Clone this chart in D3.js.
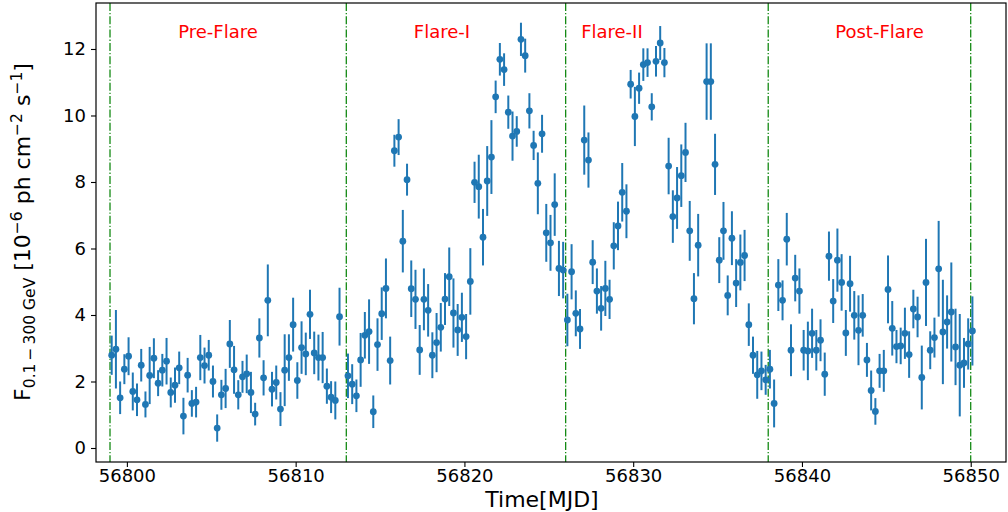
<!DOCTYPE html>
<html><head><meta charset="utf-8">
<script src="https://cdn.jsdelivr.net/npm/d3@7"></script>
<style>body{margin:0;background:#fff}svg{display:block}text{font-family:"DejaVu Sans",sans-serif}</style>
</head><body><svg id="c" width="1008" height="512"></svg>
<script>
const time = [
56799.10,56799.35,56799.60,56799.85,56800.10,56800.35,56800.60,56800.85,
56801.10,56801.35,56801.60,56801.85,56802.10,56802.35,56802.60,56802.85,
56803.10,56803.35,56803.60,56803.85,56804.10,56804.35,56804.60,56804.85,
56805.10,56805.35,56805.60,56805.85,56806.10,56806.35,56806.60,56806.85,
56807.10,56807.35,56807.60,56807.85,56808.10,56808.35,56808.60,56808.85,
56809.10,56809.35,56809.60,56809.85,56810.10,56810.35,56810.60,56810.85,
56811.10,56811.35,56811.60,56811.85,56812.10,56812.35,56812.60,
56813.10,56813.35,56813.60,56813.85,56814.10,56814.35,56814.60,56814.85,
56815.10,56815.35,56815.60,56815.85,56816.10,56816.35,56816.60,56816.85,
56817.10,56817.35,56817.60,56817.85,56818.10,56818.35,56818.60,56818.85,
56819.10,56819.35,56819.60,56819.85,56820.10,56820.35,56820.60,56820.85,
56821.10,56821.35,56821.60,56821.85,56822.10,56822.35,56822.60,56822.85,
56823.10,56823.35,56823.60,56823.85,56824.10,56824.35,56824.60,56824.85,
56825.10,56825.35,56825.60,56825.85,56826.10,56826.35,56826.60,56826.85,
56827.10,56827.35,56827.60,56827.85,56828.10,56828.35,56828.60,56828.85,
56829.10,56829.35,56829.60,56829.85,56830.10,56830.35,56830.60,56830.85,
56831.10,56831.35,56831.60,56831.85,56832.10,56832.35,56832.60,56832.85,
56833.10,56833.35,56833.60,56833.85,56834.35,56834.60,56834.85,
56835.10,56835.35,56835.60,56835.85,56836.10,56836.35,56836.60,56836.85,
56837.10,56837.35,56837.60,56837.85,56838.10,56838.35,56838.60,56838.85,
56839.10,56839.35,56839.60,56839.85,56840.10,56840.35,56840.60,56840.85,
56841.10,56841.35,56841.60,56841.85,56842.10,56842.35,56842.60,56842.85,
56843.10,56843.35,56843.60,56843.85,56844.10,56844.35,56844.60,56844.85,
56845.10,56845.35,56845.60,56845.85,56846.10,56846.35,56846.60,56846.85,
56847.10,56847.35,56847.60,56847.85,56848.10,56848.35,56848.60,56848.85,
56849.10,56849.35,56849.60,56849.85,56850.10
];
const flux = [
2.79,2.97,1.51,2.37,2.76,1.70,1.45,2.49,1.31,2.18,2.70,1.95,2.34,2.61,1.67,1.89,
2.41,0.96,2.19,1.34,1.38,2.72,2.48,2.79,2.00,0.60,1.60,1.79,3.13,2.35,1.60,2.14,
2.23,1.67,1.02,3.31,2.11,4.44,1.77,1.97,1.17,2.34,2.72,3.71,2.03,3.02,2.83,4.02,
2.86,2.72,2.72,1.86,1.53,1.43,3.95,
2.17,1.92,1.57,2.65,3.39,3.50,1.09,3.11,4.04,4.80,2.63,8.94,9.35,6.22,8.07,4.79,
4.47,2.95,4.47,4.14,2.79,3.17,3.63,4.48,5.15,4.06,3.55,3.93,3.35,5.01,7.99,7.86,
6.34,8.03,8.75,10.56,11.69,11.38,10.10,9.38,9.52,12.29,11.80,10.14,9.10,7.96,9.45,
6.47,6.17,7.32,5.40,5.35,3.85,5.30,4.05,3.58,9.26,8.66,5.59,4.72,4.20,4.80,4.47,
6.08,6.68,7.69,7.12,10.94,9.97,10.82,11.53,11.59,10.26,11.63,12.18,11.59,8.48,6.96,
7.52,8.19,8.89,6.53,4.49,6.10,
11.02,11.02,8.53,5.65,6.53,4.59,6.31,4.96,5.58,5.79,3.71,2.79,2.20,2.32,2.05,2.37,
1.34,4.90,4.44,6.28,2.94,5.11,4.72,2.94,2.92,3.45,2.94,3.24,2.22,5.77,4.42,5.65,
4.98,3.46,4.94,3.99,3.54,3.99,2.65,1.73,1.10,2.32,2.32,4.77,3.60,3.05,3.07,3.45,
2.81,4.18,3.94,2.12,4.98,2.94,3.32,5.39,3.49,3.79,4.09,3.04,2.49,2.56,3.13,3.52
];
const fluxErr = [
0.59,1.18,0.49,0.45,0.57,0.57,0.49,0.49,0.39,0.86,0.60,0.39,0.49,0.70,0.45,0.53,
0.49,0.55,0.52,0.40,0.46,0.68,0.54,0.46,0.48,0.41,0.45,0.59,0.72,0.72,0.44,0.48,
0.58,0.62,0.34,0.59,0.53,1.08,0.52,0.51,0.51,1.08,0.70,0.81,0.55,0.79,0.64,0.74,
0.64,0.69,0.77,0.53,0.48,0.57,0.87,
0.67,0.60,0.49,0.81,0.70,0.97,0.49,0.79,0.79,0.90,0.72,0.48,0.54,0.94,0.48,0.85,
0.89,0.75,0.93,0.79,0.69,0.89,0.73,0.78,0.88,1.04,0.78,0.74,0.68,1.00,0.62,0.96,
0.85,1.05,1.11,0.49,0.49,0.49,0.50,0.74,0.46,0.50,0.51,0.53,0.44,0.93,0.57,
0.87,0.84,0.94,0.83,0.85,0.79,0.83,0.69,0.60,1.04,0.83,0.66,0.68,0.67,0.83,0.59,
0.71,0.73,0.88,0.81,0.43,0.89,0.47,0.49,0.43,0.41,0.46,0.51,0.44,0.85,0.79,
0.93,0.94,0.89,0.90,0.77,0.94,
1.15,1.15,0.92,0.69,0.87,0.60,0.81,0.72,0.84,0.77,0.64,0.56,0.72,0.58,0.45,0.58,
0.72,0.78,0.60,0.79,0.78,0.70,0.68,0.61,0.88,0.74,0.61,0.63,0.65,0.74,0.66,0.95,
0.85,0.69,0.84,0.73,1.05,0.64,0.51,0.60,0.40,0.51,0.63,1.02,0.82,0.50,0.55,0.77,
0.70,0.58,0.61,0.96,1.31,0.57,0.60,1.44,1.57,0.80,1.49,1.15,1.54,0.75,0.77,1.04
];
const xTicks = [56800,56810,56820,56830,56840,56850];
const yTicks = [0,2,4,6,8,10,12];
const periodEdges = [56799,56813,56826,56838,56850];
const periodNames = ["Pre-Flare","Flare-I","Flare-II","Post-Flare"];
const periodLabelTimes = [56805.4,56818.67,56828.74,56844.6];

const L=96,R=1006,T=3,B=462;
const svg=d3.select("#c");
const x=d3.scaleLinear().domain([56798.17,56852.09]).range([L,R]);
const y=d3.scaleLinear().domain([-0.421,13.383]).range([B,T]);
const data=time.map((t,i)=>({t,f:flux[i],e:fluxErr[i]}));

// period boundaries
svg.append("g").selectAll("line").data(periodEdges).join("line")
  .attr("x1",d=>x(d)).attr("x2",d=>x(d)).attr("y1",T).attr("y2",B)
  .attr("stroke","#008000").attr("stroke-width",1.2).attr("stroke-dasharray","8,2,1.3,2");

// error bars
const blue="#1f77b4";
svg.append("g").selectAll("line").data(data).join("line")
  .attr("x1",d=>x(d.t)).attr("x2",d=>x(d.t))
  .attr("y1",d=>y(d.f+d.e)).attr("y2",d=>y(d.f-d.e))
  .attr("stroke",blue).attr("stroke-width",2);
svg.append("g").selectAll("circle").data(data).join("circle")
  .attr("cx",d=>x(d.t)).attr("cy",d=>y(d.f)).attr("r",3.4).attr("fill",blue);

// period labels
svg.append("g").selectAll("text").data(periodNames).join("text")
  .attr("x",(d,i)=>x(periodLabelTimes[i])).attr("y",37.5)
  .attr("text-anchor","middle").attr("fill","#ff0000").attr("font-size",18).text(d=>d);

// frame
svg.append("rect").attr("x",L).attr("y",T).attr("width",R-L).attr("height",B-T)
  .attr("fill","none").attr("stroke","#000").attr("stroke-width",1.2);

// axes
const gx=svg.append("g").attr("transform",`translate(0,${B})`)
  .call(d3.axisBottom(x).tickValues(xTicks).tickFormat(d3.format("d")).tickSize(5).tickPadding(2).tickSizeOuter(0));
const gy=svg.append("g").attr("transform",`translate(${L},0)`)
  .call(d3.axisLeft(y).tickValues(yTicks).tickFormat(d3.format("d")).tickSize(5).tickPadding(5).tickSizeOuter(0));
[gx,gy].forEach(g=>{g.select(".domain").remove();
  g.selectAll("text").attr("font-size",18).attr("font-family","DejaVu Sans").attr("fill","#000");
  g.selectAll("line").attr("stroke","#000").attr("stroke-width",1.1);});

// axis labels
svg.append("text").attr("x",542).attr("y",507).attr("text-anchor","middle")
  .attr("font-size",22).text("Time[MJD]");
const yl=svg.append("text").attr("transform","rotate(-90)").attr("x",-232).attr("y",30)
  .attr("text-anchor","middle").attr("font-size",22);
const parts=[["F",22,0],["0.1\u2009\u2212\u2009300 GeV",15.5,5],[" [10",22,-5],["\u22126",15.5,-8],
  [" ph cm",22,8],["\u22122",15.5,-8],[" s",22,8],["\u22121",15.5,-8],["]",22,8]];
parts.forEach(p=>yl.append("tspan").attr("font-size",p[1]).attr("dy",p[2]).text(p[0]));
</script></body></html>
